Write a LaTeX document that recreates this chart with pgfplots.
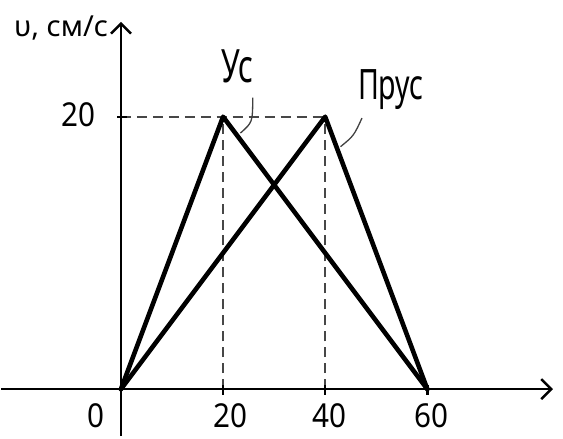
\documentclass[border=0pt]{standalone}
\usepackage{fontspec}
\setmainfont{Noto Sans}
\usepackage{pgfplots}
\pgfplotsset{compat=1.18}
\usetikzlibrary{arrows.meta}
\newcommand\lblUs{Ус}
\newcommand\lblPrus{Прус}
\newcommand\lblY{υ, см/с}
\begin{document}
\begin{tikzpicture}
\begin{axis}[
  scale only axis, width=563pt, height=439pt,
  xmin=-23.45, xmax=86.57, ymin=-3.59, ymax=28.57,
  hide axis, clip=false,
]
\path (rel axis cs:0,0) rectangle (rel axis cs:1,1);
% dashed guides
\addplot[black!72, line width=1.9pt, dash pattern=on 10pt off 6pt] coordinates {(0,20) (40,20)};
\addplot[black!72, line width=1.7pt, dash pattern=on 10pt off 6pt] coordinates {(20,0) (20,20)};
\addplot[black!72, line width=1.7pt, dash pattern=on 10pt off 6pt] coordinates {(40,0) (40,20)};
% series
\addplot[black, line width=4.6pt, line join=round, line cap=round] coordinates {(0,0) (20,20) (60,0)};
\addplot[black, line width=4.6pt, line join=round, line cap=round] coordinates {(0,0) (40,20) (60,0)};
% axes
\draw[line width=2.4pt, -{Straight Barb[length=10pt, width=20pt, line width=2.4pt]}] (axis cs:-23.45,0) -- (axis cs:84.6,0);
\draw[line width=2.4pt, -{Straight Barb[length=10pt, width=20pt, line width=2.4pt]}] (axis cs:0,-3.44) -- (axis cs:0,26.96);
% ticks
\draw[line width=2.4pt] (axis cs:20,0.3) -- (axis cs:20,-0.45);
\draw[line width=2.4pt] (axis cs:40,0.3) -- (axis cs:40,-0.45);
\draw[line width=2.4pt] (axis cs:60,0.3) -- (axis cs:60,-0.45);
\draw[line width=2.4pt] (axis cs:-0.7,20) -- (axis cs:1.2,20);
% pointers
\draw[line width=1.3pt, black!75] (axis cs:25.8,21.4) .. controls (axis cs:25.8,19.6) .. (axis cs:23.4,18.8);
\draw[line width=1.3pt, black!75] (axis cs:47.2,19.9) .. controls (axis cs:45.6,18.6) .. (axis cs:43.0,17.8);
% anchor coordinates for labels
\coordinate (t0) at (axis cs:-4.9,-2.85);
\coordinate (t20) at (axis cs:21.4,-2.85);
\coordinate (t40) at (axis cs:40.8,-2.85);
\coordinate (t60) at (axis cs:60.8,-2.85);
\coordinate (ty) at (axis cs:-8.3,19.27);
\coordinate (lus) at (axis cs:22.9,22.49);
\coordinate (lpr) at (axis cs:52.8,21.25);
\coordinate (lyl) at (axis cs:-11.7,25.9);
\end{axis}
\begin{scope}[every node/.style={font=\fontsize{33}{37}\selectfont, anchor=base, inner sep=0pt, text depth=0pt, xscale=0.9}]
\node at (t0) {0};
\node at (t20) {20};
\node at (t40) {40};
\node at (t60) {60};
\node at (ty) {20};
\end{scope}
\node[font=\fontsize{46}{50}\selectfont, anchor=base, inner sep=0pt, xscale=0.66] at (lus) {\lblUs};
\node[font=\fontsize{42}{46}\selectfont, anchor=base, inner sep=0pt, xscale=0.68] at (lpr) {\lblPrus};
\node[font=\fontsize{29}{32}\selectfont, anchor=base, inner sep=0pt] at (lyl) {\lblY};
\end{tikzpicture}
\end{document}
